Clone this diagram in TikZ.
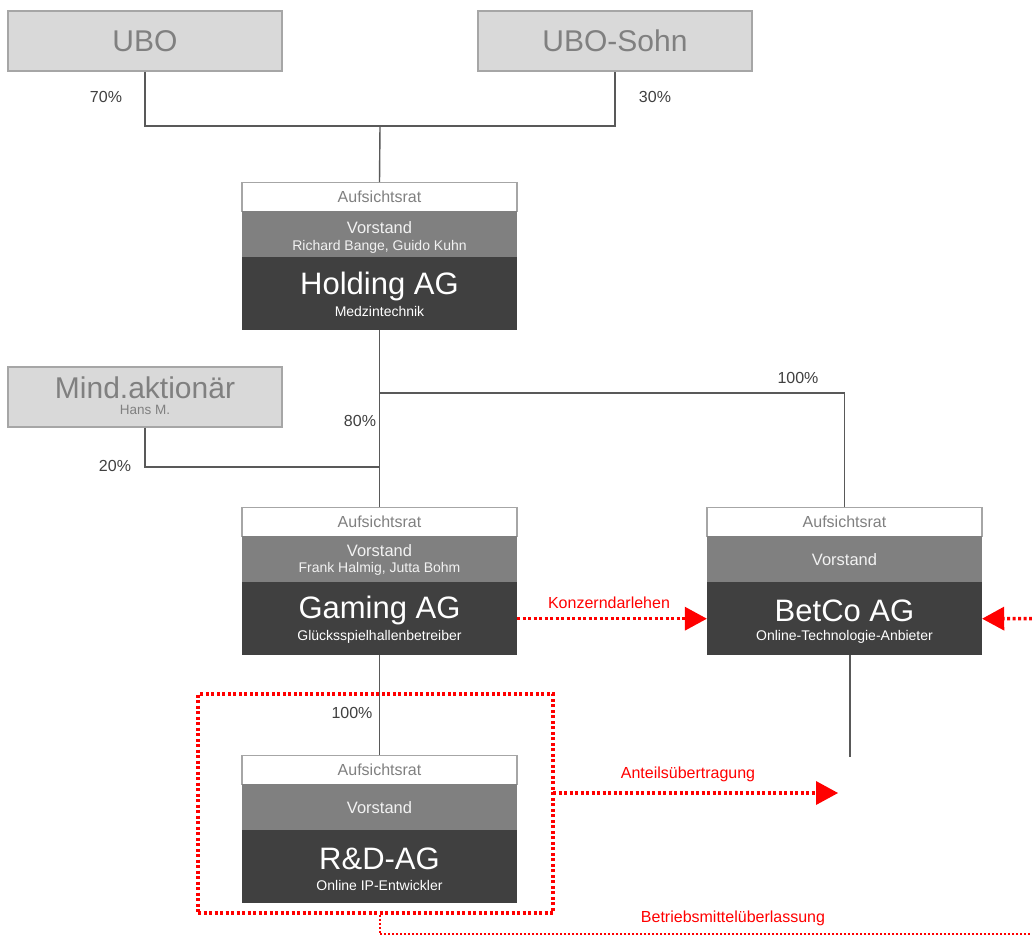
\documentclass[tikz,border=0pt]{standalone}
\usepackage{fontspec}
\setmainfont{Liberation Sans}
\usetikzlibrary{arrows.meta,calc}
\definecolor{boxgray}{HTML}{D9D9D9}
\definecolor{edgegray}{HTML}{A6A6A6}
\definecolor{txtgray}{HTML}{808080}
\definecolor{midgray}{HTML}{808080}
\definecolor{darkgray}{HTML}{404040}
\definecolor{linegray}{HTML}{595959}
\definecolor{lightwhite}{HTML}{F2F2F2}
\definecolor{redline}{HTML}{FF0000}
\newcommand{\fs}[1]{\fontsize{#1}{#1}\selectfont}
\tikzset{
  owner/.style={draw=edgegray, fill=boxgray, line width=1.2pt, minimum width=274pt, minimum height=60pt, inner sep=0pt, text=txtgray},
  arband/.style={draw=edgegray, fill=white, line width=1.2pt, minimum width=275pt, minimum height=29pt, inner sep=0pt, text=txtgray, anchor=north, font=\fs{16}},
  vsband/.style={fill=midgray, minimum width=275pt, minimum height=46pt, inner sep=0pt, text=lightwhite, anchor=north, font=\fs{16.5}},
  mainband/.style={fill=darkgray, minimum width=275pt, minimum height=73pt, inner sep=0pt, anchor=north},
  bigtxt/.style={inner sep=0pt, font=\fs{31}, text=white},
  subtxt/.style={inner sep=0pt, font=\fs{14}, text=white},
  vstxt/.style={inner sep=0pt, font=\fs{16.5}, text=lightwhite},
  nametxt/.style={inner sep=0pt, font=\fs{14}, text=lightwhite},
  conn/.style={draw=linegray, line width=1.4pt},
  pct/.style={text=darkgray, font=\fs{16}},
  redlbl/.style={text=redline, font=\fs{16}},
  reddot/.style={draw=redline, line width=3.5pt, dash pattern=on 3pt off 2.5pt},
  redarrow/.style={reddot, -{Triangle[length=22pt,width=24pt,fill=redline,line width=0pt]}},
}
\begin{document}
\begin{tikzpicture}[x=1pt,y=-1pt]
\useasboundingbox[fill=white] (0,0) rectangle (1032,936);

% owners
\node[owner, font=\fs{30}] (ubo) at (145,41) {UBO};
\node[owner, font=\fs{30}] (sohn) at (615,41) {UBO-Sohn};
\node[owner] (mind) at (145,397) {};
\node[inner sep=0pt, font=\fs{30}, text=txtgray] (mindT) at ($(mind.north)+(0,21)$) {Mind.aktionär};
\node[inner sep=0pt, font=\fs{13.5}, text=txtgray] (mindS) at ($(mind.north)+(0,44)$) {Hans M.};

% Holding AG
\node[arband] (holdAR) at (379.5,182) {Aufsichtsrat};
\node[vsband] (holdVS) at (379.5,211) {};
\node[vstxt] (holdVST) at ($(holdVS.north)+(0,17)$) {Vorstand};
\node[nametxt] (holdN) at ($(holdVS.north)+(0,35.5)$) {Richard Bange, Guido Kuhn};
\node[mainband] (holdMain) at (379.5,257) {};
\node[bigtxt] (holdT) at ($(holdMain.north)+(0,29)$) {Holding AG};
\node[subtxt] (holdS) at ($(holdMain.north)+(0,54.5)$) {Medzintechnik};

% Gaming AG
\node[arband] (gamAR) at (379.5,507) {Aufsichtsrat};
\node[vsband] (gamVS) at (379.5,536) {};
\node[vstxt] (gamVST) at ($(gamVS.north)+(0,15)$) {Vorstand};
\node[nametxt] (gamN) at ($(gamVS.north)+(0,33)$) {Frank Halmig, Jutta Bohm};
\node[mainband] (gamMain) at (379.5,582) {};
\node[bigtxt] (gamT) at ($(gamMain.north)+(0,28.5)$) {Gaming AG};
\node[subtxt] (gamS) at ($(gamMain.north)+(0,54.5)$) {Glücksspielhallenbetreiber};

% BetCo AG
\node[arband] (betAR) at (844.5,507) {Aufsichtsrat};
\node[vsband] (betVS) at (844.5,536) {Vorstand};
\node[mainband] (betMain) at (844.5,582) {};
\node[bigtxt] (betT) at ($(betMain.north)+(0,28.5)$) {BetCo AG};
\node[subtxt] (betS) at ($(betMain.north)+(0,54.5)$) {Online-Technologie-Anbieter};

% R&D-AG
\node[arband] (rdAR) at (379.5,755) {Aufsichtsrat};
\node[vsband] (rdVS) at (379.5,784) {Vorstand};
\node[mainband] (rdMain) at (379.5,830) {};
\node[bigtxt] (rdT) at ($(rdMain.north)+(0,28.5)$) {R\&D-AG};
\node[subtxt] (rdS) at ($(rdMain.north)+(0,55)$) {Online IP-Entwickler};

% junction coordinates
\coordinate (j1) at (380,126);
\coordinate (b1) at (380,393);
\coordinate (m1) at (380,467);
\coordinate (b2) at (850,757);

% ownership connectors
\draw[conn] (ubo.south) |- (j1) -| (sohn.south);
\draw[conn] (j1) -- (holdAR.north);
\draw[conn] (holdMain.south) -- (gamAR.north);
\draw[conn] (b1) -| (betAR.north);
\draw[conn] (mind.south) |- (m1);
\draw[conn] (gamMain.south) -- (rdAR.north);
\draw[conn] (betMain.south -| b2) -- (b2);

% percentages
\node[pct] at (106,97) {70\%};
\node[pct] at (655,97) {30\%};
\node[pct] at (798,378) {100\%};
\node[pct] at (360,421) {80\%};
\node[pct] at (115,466) {20\%};
\node[pct] at (352,713) {100\%};

% red frame and flows
\node[reddot, minimum width=355pt, minimum height=219pt, inner sep=0pt] (rdframe) at (375.5,803.5) {};
\coordinate (rightend) at (1032,618.5);
\coordinate (a1) at (553,793);
\coordinate (a2) at (838,793);
\coordinate (bottomend) at (1032,934);

\draw[redarrow] (gamMain.east) -- (betMain.west);
\draw[redarrow] (rightend) -- (betMain.east);
\draw[redarrow] (a1) -- (a2);
\draw[draw=redline, line width=2pt, dash pattern=on 2pt off 2pt] (rdMain.south |- rdframe.south) |- (bottomend);

\node[redlbl] at (609,603) {Konzerndarlehen};
\node[redlbl] at (688,774) {Anteilsübertragung};
\node[redlbl] at (733,918) {Betriebsmittelüberlassung};
\end{tikzpicture}
\end{document}
